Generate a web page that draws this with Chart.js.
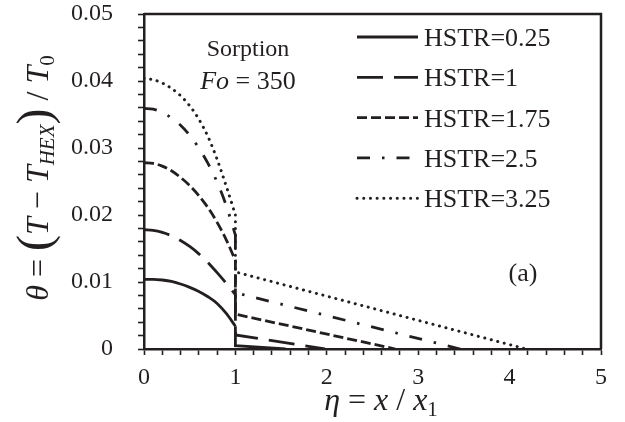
<!DOCTYPE html>
<html>
<head>
<meta charset="utf-8">
<script src="https://cdn.jsdelivr.net/npm/chart.js@4.4.1/dist/chart.umd.min.js"></script>
<style>
  body { margin: 0; background: #fff; }
  #wrap { width: 625px; height: 422px; }
</style>
</head>
<body>
<div id="wrap"><canvas id="grafico" width="625" height="422"></canvas></div>
<script>
// eta = x / x1 sampled inside the sorbent layer (0..1)
const etaLeft = [0, 0.1, 0.2, 0.3, 0.4, 0.5, 0.6, 0.7, 0.8, 0.9, 1.0];

const hstrLabels = ['HSTR=0.25', 'HSTR=1', 'HSTR=1.75', 'HSTR=2.5', 'HSTR=3.25'];

// theta inside the layer, one list per HSTR
const theta025 = [0.0104, 0.0104, 0.0103, 0.0101, 0.0097, 0.0092, 0.0086, 0.0078, 0.0068, 0.0053, 0.0034];
const theta1   = [0.0178, 0.0177, 0.0174, 0.0169, 0.0162, 0.0153, 0.0142, 0.0129, 0.0114, 0.0098, 0.0081];
const theta175 = [0.0278, 0.0277, 0.0273, 0.0266, 0.0256, 0.0244, 0.0229, 0.0211, 0.0189, 0.0163, 0.0132];
const theta25  = [0.0359, 0.0358, 0.0353, 0.0345, 0.0334, 0.0319, 0.0300, 0.0277, 0.0249, 0.0214, 0.0170];
const theta325 = [0.0404, 0.0402, 0.0397, 0.0389, 0.0378, 0.0363, 0.0343, 0.0317, 0.0283, 0.0243, 0.0200];

// beyond eta = 1: value right after the jump, and where theta reaches 0
const thetaAfterJump = [0.0005, 0.0021, 0.0052, 0.0084, 0.0115];
const etaZero        = [1.55, 1.98, 2.75, 3.46, 4.18];

const xTicks = [0, 1, 2, 3, 4, 5];
const yTicks = [0, 0.01, 0.02, 0.03, 0.04, 0.05];

const INK = '#231f20';
const SERIF = '"Liberation Serif", "DejaVu Serif", serif';

const leftSeries = [theta025, theta1, theta175, theta25, theta325];
const estilos = [
  { dash: [], width: 2.8, cap: 'butt' },
  { dash: [26, 11], width: 2.8, cap: 'butt' },
  { dash: [10, 4], width: 2.8, cap: 'butt' },
  { dash: [13, 12, 2.5, 12], width: 2.8, cap: 'butt' },
  { dash: [0.1, 6.6], width: 3, cap: 'round' }
];

function estiloDs(i) {
  return {
    borderColor: INK,
    borderWidth: estilos[i].width,
    borderDash: estilos[i].dash,
    borderCapStyle: estilos[i].cap,
    pointRadius: 0,
    fill: false
  };
}

// each HSTR: smooth curve in the layer, then the jump at eta = 1 and the straight decay
const datasets = [];
leftSeries.forEach((serie, i) => {
  datasets.push(Object.assign({
    label: hstrLabels[i],
    data: etaLeft.map((e, j) => ({ x: e, y: serie[j] })),
    cubicInterpolationMode: 'monotone'
  }, estiloDs(i)));
  datasets.push(Object.assign({
    label: hstrLabels[i] + ' (x>1)',
    data: [
      { x: 1, y: serie[serie.length - 1] },
      { x: 1, y: thetaAfterJump[i] },
      { x: etaZero[i], y: 0 }
    ],
    tension: 0
  }, estiloDs(i)));
});

function near(v, list) {
  return list.some(t => Math.abs(v - t) < 1e-9);
}

// draw a row of text pieces, each with its own font and vertical shift
function runWidth(ctx, parts) {
  let w = 0;
  parts.forEach(p => { ctx.font = p.font; w += ctx.measureText(p.t).width; });
  return w;
}
function drawRun(ctx, parts, x, y) {
  parts.forEach(p => {
    ctx.font = p.font;
    ctx.fillText(p.t, x, y + (p.dy || 0));
    x += ctx.measureText(p.t).width;
  });
}

const extras = {
  id: 'extras',
  afterDraw(chart) {
    const ctx = chart.ctx;
    const a = chart.chartArea;
    ctx.save();
    ctx.strokeStyle = INK;
    ctx.lineWidth = 2.5;
    // top and right frame
    ctx.beginPath();
    ctx.moveTo(a.left, a.top);
    ctx.lineTo(a.right, a.top);
    ctx.lineTo(a.right, a.bottom);
    ctx.stroke();

    ctx.fillStyle = INK;
    ctx.textBaseline = 'alphabetic';

    // legend, one row per HSTR
    hstrLabels.forEach((label, i) => {
      const ds = chart.data.datasets[i * 2];
      const y = 37 + i * 40.3;
      ctx.save();
      ctx.lineWidth = ds.borderWidth;
      ctx.setLineDash(ds.borderDash);
      ctx.lineCap = ds.borderCapStyle;
      ctx.beginPath();
      ctx.moveTo(357, y);
      ctx.lineTo(418, y);
      ctx.stroke();
      ctx.restore();
      ctx.font = '26px ' + SERIF;
      ctx.textAlign = 'left';
      ctx.fillText(label, 424, y + 9);
    });

    // annotation
    ctx.textAlign = 'center';
    ctx.font = '24px ' + SERIF;
    ctx.fillText('Sorption', 248, 56);
    ctx.textAlign = 'left';
    const foParts = [
      { t: 'Fo', font: 'italic 26px ' + SERIF },
      { t: ' = 350', font: '26px ' + SERIF }
    ];
    drawRun(ctx, foParts, 248 - runWidth(ctx, foParts) / 2, 89);

    ctx.textAlign = 'center';
    ctx.font = '26px ' + SERIF;
    ctx.fillText('(a)', 523, 281);
    ctx.textAlign = 'left';

    // x title
    const xParts = [
      { t: '\u03b7', font: 'italic 32px ' + SERIF },
      { t: ' = ', font: '32px ' + SERIF },
      { t: 'x', font: 'italic 32px ' + SERIF },
      { t: ' / ', font: '32px ' + SERIF },
      { t: 'x', font: 'italic 32px ' + SERIF },
      { t: '1', font: '21px ' + SERIF, dy: 6 }
    ];
    drawRun(ctx, xParts, 381 - runWidth(ctx, xParts) / 2, 410);

    // y title, rotated
    const yParts = [
      { t: '\u03b8', font: 'italic 32px ' + SERIF },
      { t: ' = ', font: '32px ' + SERIF },
      { t: '(', font: '48px ' + SERIF, dy: 2 },
      { t: 'T', font: 'italic 32px ' + SERIF },
      { t: ' \u2212 ', font: '32px ' + SERIF },
      { t: 'T', font: 'italic 32px ' + SERIF },
      { t: 'HEX', font: 'italic 21px ' + SERIF, dy: 6 },
      { t: ')', font: '48px ' + SERIF, dy: 2 },
      { t: ' / ', font: '32px ' + SERIF },
      { t: 'T', font: 'italic 32px ' + SERIF },
      { t: '0', font: '21px ' + SERIF, dy: 6 }
    ];
    ctx.translate(48, 178);
    ctx.rotate(-Math.PI / 2);
    drawRun(ctx, yParts, -runWidth(ctx, yParts) / 2, 0);
    ctx.restore();
  }
};

const ctx = document.getElementById('grafico').getContext('2d');
const grafico = new Chart(ctx, {
  type: 'line',
  data: { datasets },
  options: {
    responsive: false,
    animation: false,
    events: [],
    layout: { padding: { left: 0, right: 24, top: 14, bottom: 0 } },
    plugins: { legend: { display: false }, tooltip: { enabled: false } },
    scales: {
      x: {
        type: 'linear',
        min: 0,
        max: 5,
        afterFit: s => { s.height = 73; s.paddingLeft = 0; s.paddingRight = 0; },
        border: { display: true, color: INK, width: 2.5 },
        grid: { drawOnChartArea: false, drawTicks: true, tickLength: 6, tickColor: INK, tickWidth: 1.6 },
        ticks: {
          stepSize: 0.2,
          autoSkip: false,
          maxRotation: 0,
          padding: 8,
          color: INK,
          font: { family: SERIF, size: 24 },
          callback: v => near(v, xTicks) ? String(Math.round(v)) : ''
        }
      },
      y: {
        min: 0,
        max: 0.05,
        afterFit: s => { s.width = 144; s.paddingTop = 0; s.paddingBottom = 0; },
        border: { display: true, color: INK, width: 2.5 },
        grid: { drawOnChartArea: false, drawTicks: true, tickLength: 6, tickColor: INK, tickWidth: 1.6 },
        ticks: {
          stepSize: 0.002,
          autoSkip: false,
          padding: 25,
          color: INK,
          font: { family: SERIF, size: 24 },
          callback: v => near(v, yTicks) ? (v === 0 ? '0' : v.toFixed(2)) : ''
        }
      }
    }
  },
  plugins: [extras]
});
</script>
</body>
</html>
